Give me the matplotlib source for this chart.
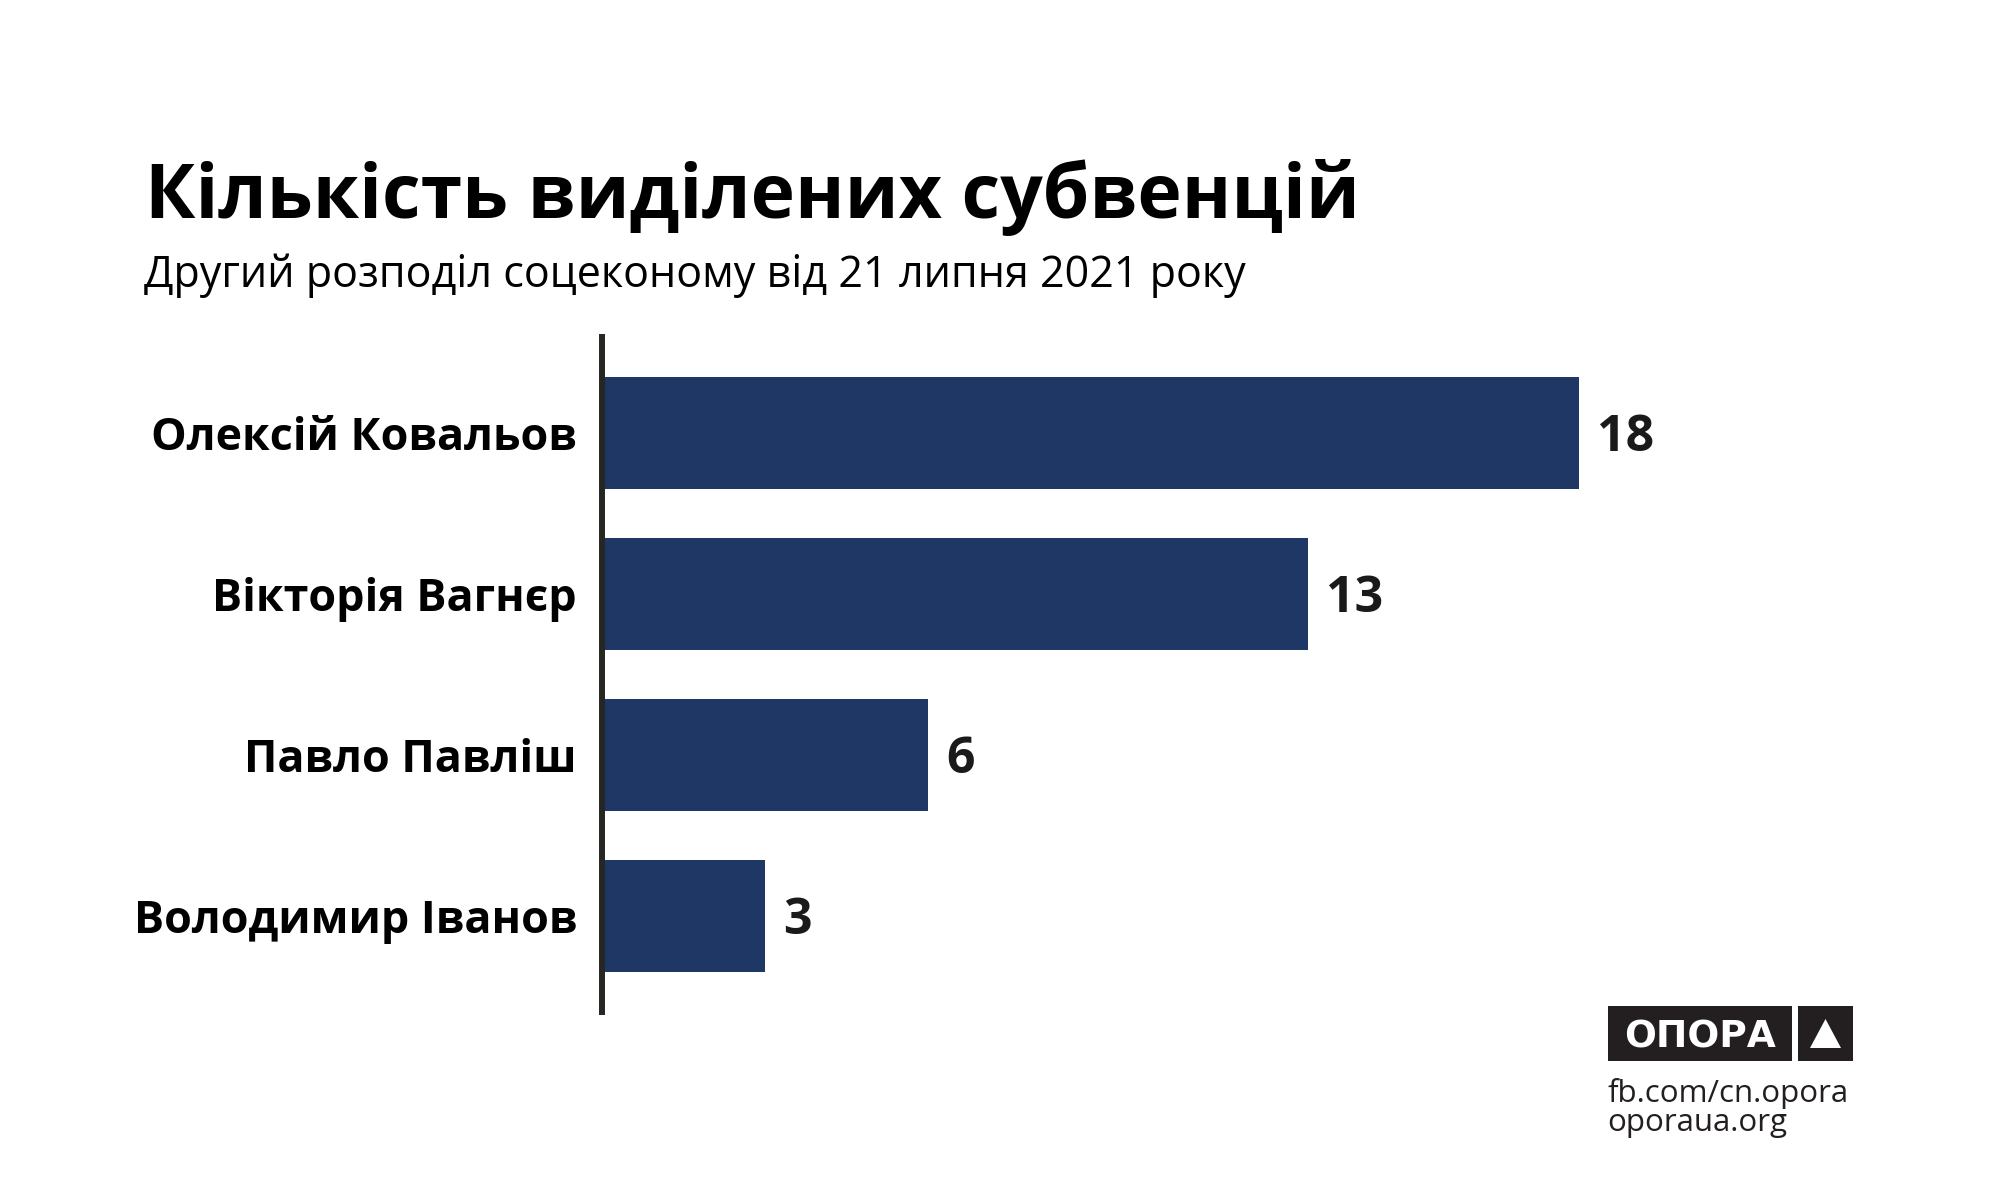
import matplotlib
matplotlib.use("Agg")
import matplotlib.pyplot as plt
from matplotlib.patches import Rectangle, Polygon

# Data
names = ["Олексій Ковальов", "Вікторія Вагнєр", "Павло Павліш", "Володимир Іванов"]
values = [18, 13, 6, 3]

title = "Кількість виділених субвенцій"
subtitle = "Другий розподіл соцеконому від 21 липня 2021 року"
brand = "ОПОРА"
links = ["fb.com/cn.opora", "oporaua.org"]

BAR = "#1e3765"
AXIS = "#262622"
INK = "#1a1a1a"
LOGO = "#231f20"

plt.rcParams["font.family"] = ["Open Sans", "DejaVu Sans"]

W, H = 2000, 1200
fig = plt.figure(figsize=(W / 100, H / 100), dpi=100)
fig.patch.set_facecolor("white")


def fx(px):
    return px / W


def fy(py):
    return 1 - py / H


# Plot area: x=0 sits on the vertical axis line
left_px, right_px, top_px, bot_px = 602, 1960, 337, 1012
ax = fig.add_axes([fx(left_px), fy(bot_px), fx(right_px - left_px), (bot_px - top_px) / H])
xmax = (right_px - left_px) / 54.3
ax.set_xlim(0, xmax)
ax.set_ylim(len(names) - 1 + 0.6, -0.6)

ypos = list(range(len(names)))
ax.barh(ypos, values, height=0.697, color=BAR, zorder=2)

for s in ["top", "right", "bottom"]:
    ax.spines[s].set_visible(False)
ax.spines["left"].set_linewidth(4.3)
ax.spines["left"].set_color(AXIS)
ax.spines["left"].set_zorder(3)
ax.set_xticks([])
ax.set_yticks(ypos, labels=names)
ax.tick_params(axis="y", length=0, pad=18)
for lab in ax.get_yticklabels():
    lab.set_fontsize(32.3)
    lab.set_fontweight("bold")
    lab.set_color("black")
ax.patch.set_alpha(0)

for y, v in zip(ypos, values):
    ax.annotate(str(v), xy=(v, y), xytext=(13, -13), textcoords="offset points",
                ha="left", va="baseline", fontsize=36, fontweight="bold", color=INK)

# Headings
fig.text(fx(145), fy(218), title, fontsize=54, fontweight="bold",
         color="black", ha="left", va="baseline")
fig.text(fx(144), fy(287), subtitle, fontsize=31.1, color="black",
         ha="left", va="baseline")

# Brand mark
fig.add_artist(Rectangle((fx(1608), fy(1061)), fx(1792 - 1608), (1061 - 1006) / H,
                         transform=fig.transFigure, color=LOGO, lw=0))
fig.add_artist(Rectangle((fx(1798), fy(1061)), fx(1853 - 1798), (1061 - 1006) / H,
                         transform=fig.transFigure, color=LOGO, lw=0))
fig.add_artist(Polygon([(fx(1810), fy(1048)), (fx(1841), fy(1048)), (fx(1825.5), fy(1019))],
                       closed=True, transform=fig.transFigure, color="white", lw=0))
fig.text(fx(1700), fy(1047), brand, fontsize=27, fontweight="bold", color="white",
         family="DejaVu Sans", ha="center", va="baseline")
fig.text(fx(1607), fy(1102), links[0], fontsize=22.5, fontweight="medium", color=LOGO,
         ha="left", va="baseline")
fig.text(fx(1607), fy(1131), links[1], fontsize=22.5, fontweight="medium", color=LOGO,
         ha="left", va="baseline")

fig.savefig("out.png", dpi=100, facecolor="white")
